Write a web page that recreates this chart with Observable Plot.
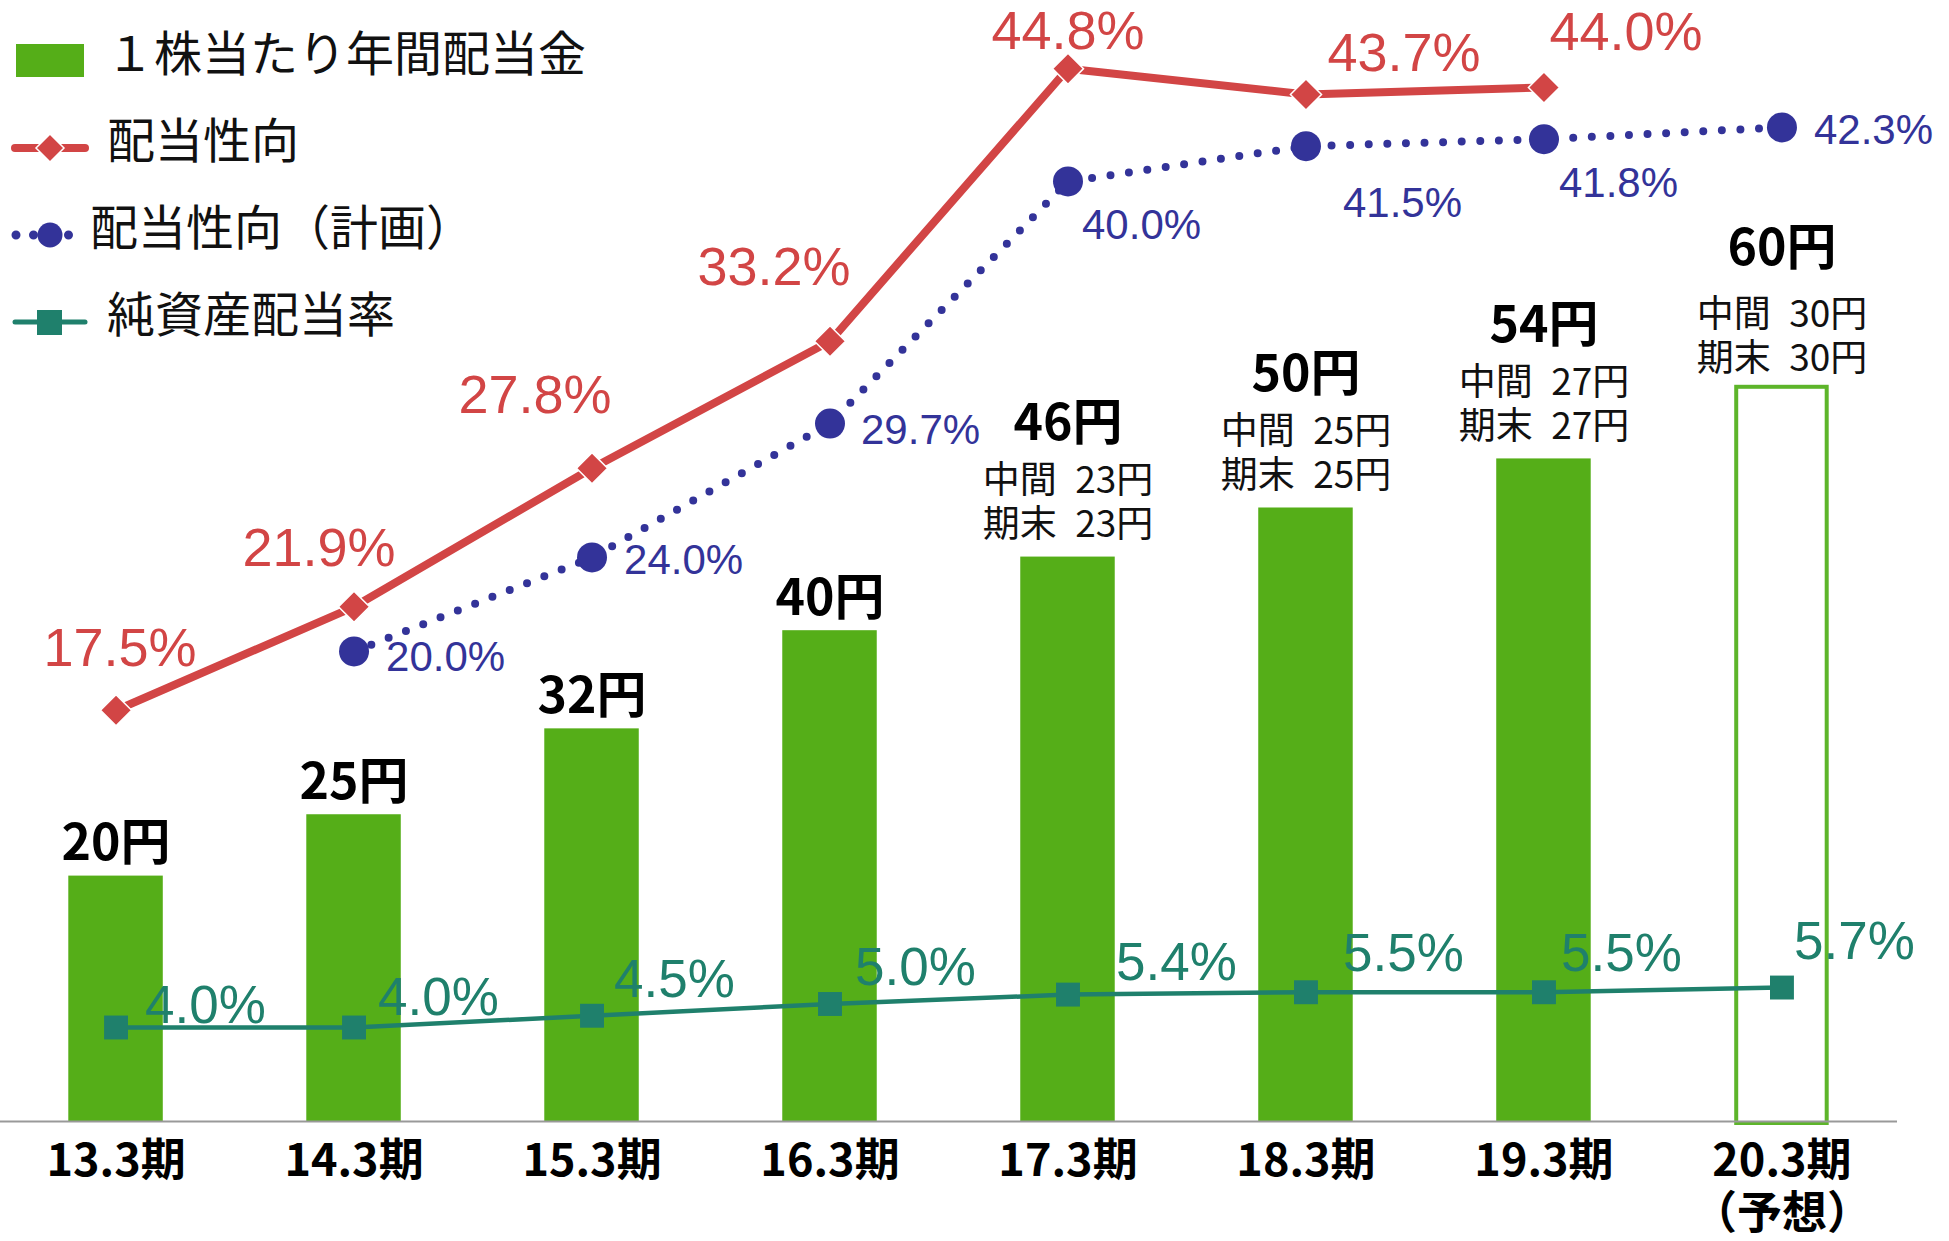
<!DOCTYPE html>
<html>
<head>
<meta charset="utf-8">
<script src="https://cdn.jsdelivr.net/npm/d3@7"></script>
<script src="https://cdn.jsdelivr.net/npm/@observablehq/plot@0.6"></script>
<style>
html, body { margin: 0; padding: 0; background: #fff; }
#wrap { position: relative; width: 1949px; height: 1241px; overflow: hidden; background: #fff; }
#wrap > svg { position: absolute; left: 0; top: 0; }
.lg { position: absolute; font-family: "Noto Sans CJK JP", sans-serif; font-size: 48px; color: #111; line-height: 1; white-space: nowrap; }
.lgsym { position: absolute; left: 0; top: 0; }
</style>
</head>
<body>
<div id="wrap"></div>
<script>
// ---------- data ----------
const categories   = ["13.3期", "14.3期", "15.3期", "16.3期", "17.3期", "18.3期", "19.3期", "20.3期"];
const tickLabels   = ["13.3期", "14.3期", "15.3期", "16.3期", "17.3期", "18.3期", "19.3期", "20.3期\n（予想）"];
const dividends    = [20, 25, 32, 40, 46, 50, 54, 60];           // 1株当たり年間配当金 (円)
const interimDiv   = [null, null, null, null, 23, 25, 27, 30];   // 中間
const yearEndDiv   = [null, null, null, null, 23, 25, 27, 30];   // 期末
const isForecast   = [false, false, false, false, false, false, false, true];
const payoutRatio  = [17.5, 21.9, 27.8, 33.2, 44.8, 43.7, 44.0, null];  // 配当性向
const payoutPlan   = [null, 20.0, 24.0, 29.7, 40.0, 41.5, 41.8, 42.3];  // 配当性向（計画）
const doeRatio     = [4.0, 4.0, 4.5, 5.0, 5.4, 5.5, 5.5, 5.7];          // 純資産配当率
const legendLabels = ["１株当たり年間配当金", "配当性向", "配当性向（計画）", "純資産配当率"];

// ---------- layout (label offsets in px, not data) ----------
const redOff   = [[4,-44],[-35,-41],[-57,-55],[-56,-56],[0,-20],[98,-24],[82,-37]];
const blueOff  = [null,[32,20],[32,17],[31,20],[14,58],[37,71],[15,58],[32,17]];
const greenOff = [[29,-4],[24,-12],[22,-19],[25,-19],[48,-15],[37,-21],[17,-21],[12,-29]];

const W = 1949, H = 1241;
const M = {marginLeft: 0, marginRight: 52, marginTop: 0, marginBottom: 120};
const xScale = {type: "band", domain: categories, paddingInner: 0.603, paddingOuter: 0.287, round: false, axis: null};
const C = {green: "#55AE18", greenLine: "#5DB52A", red: "#D24545", blue: "#333399", teal: "#1F806C"};
const JP = "Noto Sans CJK JP";
const LAT = "Liberation Sans";
const SP = "\u2002";

const rows = categories.map((c, i) => ({
  cat: c, tick: tickLabels[i], yen: dividends[i], interim: interimDiv[i], yearEnd: yearEndDiv[i],
  forecast: isForecast[i]
}));
const plain  = rows.filter(d => d.interim == null);
const split  = rows.filter(d => d.interim != null && !d.forecast);
const fcast  = rows.filter(d => d.interim != null && d.forecast);
const yenTxt = d => `${d.yen}円`;
const subTxt = d => `中間${SP}${d.interim}円\n期末${SP}${d.yearEnd}円`;
const mainStyle = {lineAnchor: "bottom", fontSize: 50, fontWeight: "bold", fill: "#000", fontFamily: JP};
const subStyle  = {lineAnchor: "bottom", lineHeight: 1.2, fontSize: 37, fill: "#111", fontFamily: JP};

// ---------- plot 1: bars (yen scale) ----------
const barPlot = Plot.plot({
  width: W, height: H, ...M,
  x: xScale,
  y: {domain: [0, 91.36], axis: null},
  style: {background: "transparent", fontFamily: JP, overflow: "visible"},
  marks: [
    Plot.barY(rows.filter(d => !d.forecast), {x: "cat", y: "yen", fill: C.green}),
    Plot.barY(rows.filter(d => d.forecast), {x: "cat", y: "yen", fill: "white", stroke: C.greenLine, strokeWidth: 4,
      insetLeft: 2, insetRight: 2, insetTop: 2, insetBottom: -2}),
    Plot.ruleY([0], {stroke: "#999", strokeWidth: 2}),
    Plot.text(plain, {x: "cat", y: "yen", text: yenTxt, dy: -16, ...mainStyle}),
    Plot.text(split, {x: "cat", y: "yen", text: yenTxt, dy: -117, ...mainStyle}),
    Plot.text(split, {x: "cat", y: "yen", text: subTxt, dy: -20, ...subStyle}),
    Plot.text(fcast, {x: "cat", y: "yen", text: yenTxt, dy: -120, ...mainStyle}),
    Plot.text(fcast, {x: "cat", y: "yen", text: subTxt, dy: -14, ...subStyle}),
    Plot.text(rows, {x: "cat", frameAnchor: "bottom", text: "tick", dy: 16, lineAnchor: "top",
      lineHeight: 1.19, fontSize: 45, fontWeight: "bold", fill: "#000", fontFamily: JP})
  ]
});

// ---------- plot 2: ratio lines (percent scale) ----------
const redData   = categories.map((c, i) => ({cat: c, v: payoutRatio[i], i})).filter(d => d.v != null);
const blueData  = categories.map((c, i) => ({cat: c, v: payoutPlan[i], i})).filter(d => d.v != null);
const greenData = categories.map((c, i) => ({cat: c, v: doeRatio[i], i})).filter(d => d.v != null);
const pct = d => `${d.v.toFixed(1)}%`;

const labelMarks = [];
for (const d of redData) labelMarks.push(Plot.text([d], {x: "cat", y: "v", text: pct, dx: redOff[d.i][0], dy: redOff[d.i][1],
  lineAnchor: "bottom", textAnchor: "middle", fontSize: 54, fill: C.red, fontFamily: LAT}));
for (const d of blueData) labelMarks.push(Plot.text([d], {x: "cat", y: "v", text: pct, dx: blueOff[d.i][0], dy: blueOff[d.i][1],
  lineAnchor: "bottom", textAnchor: "start", fontSize: 42, fill: C.blue, fontFamily: LAT}));
for (const d of greenData) labelMarks.push(Plot.text([d], {x: "cat", y: "v", text: pct, dx: greenOff[d.i][0], dy: greenOff[d.i][1],
  lineAnchor: "bottom", textAnchor: "start", fontSize: 53, fill: C.teal, fontFamily: LAT}));

const linePlot = Plot.plot({
  width: W, height: H, ...M,
  x: xScale,
  y: {domain: [0, 47.70], axis: null},
  style: {background: "transparent", fontFamily: LAT, overflow: "visible"},
  marks: [
    Plot.line(greenData, {x: "cat", y: "v", stroke: C.teal, strokeWidth: 4.5}),
    Plot.dot(greenData, {x: "cat", y: "v", symbol: "square", r: 13.5, fill: C.teal}),
    Plot.line(blueData, {x: "cat", y: "v", stroke: C.blue, strokeWidth: 8, strokeDasharray: "0 18.6", strokeLinecap: "round"}),
    Plot.dot(blueData, {x: "cat", y: "v", r: 15, fill: C.blue}),
    Plot.line(redData, {x: "cat", y: "v", stroke: C.red, strokeWidth: 8}),
    Plot.dot(redData, {x: "cat", y: "v", symbol: "diamond2", r: 14, fill: C.red, stroke: "white", strokeWidth: 1.5}),
    ...labelMarks
  ]
});

const wrap = document.getElementById("wrap");
wrap.appendChild(barPlot);
wrap.appendChild(linePlot);

// ---------- legend ----------
const ns = "http://www.w3.org/2000/svg";
const lsvg = document.createElementNS(ns, "svg");
lsvg.setAttribute("width", 110); lsvg.setAttribute("height", 360);
lsvg.setAttribute("class", "lgsym");
lsvg.innerHTML = `
  <rect x="16" y="44" width="68" height="33" fill="${C.green}"/>
  <line x1="15" y1="148" x2="85" y2="148" stroke="${C.red}" stroke-width="8" stroke-linecap="round"/>
  <path d="M50,134 L64,148 L50,162 L36,148 Z" fill="${C.red}" stroke="white" stroke-width="1.5"/>
  <line x1="16" y1="235" x2="75" y2="235" stroke="${C.blue}" stroke-width="9" stroke-linecap="round" stroke-dasharray="0 17.5"/>
  <circle cx="50" cy="235" r="12.5" fill="${C.blue}"/>
  <line x1="15" y1="322" x2="85" y2="322" stroke="${C.teal}" stroke-width="5" stroke-linecap="round"/>
  <rect x="37" y="310" width="25" height="25" fill="${C.teal}"/>`;
wrap.appendChild(lsvg);
const legendPos = [[106, 50], [107, 137], [90, 224], [107, 311]];
legendLabels.forEach((t, i) => {
  const el = document.createElement("div");
  el.className = "lg";
  el.textContent = t;
  el.style.left = legendPos[i][0] + "px";
  el.style.top = (legendPos[i][1] - 24) + "px";
  wrap.appendChild(el);
});
</script>
</body>
</html>
